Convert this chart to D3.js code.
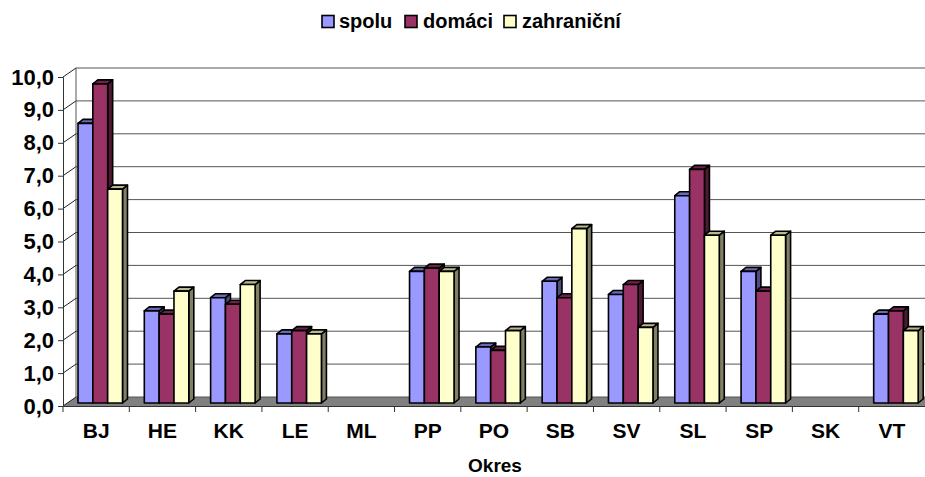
<!DOCTYPE html>
<html><head><meta charset="utf-8">
<script src="https://cdn.jsdelivr.net/npm/d3@7/dist/d3.min.js"></script>
<style>html,body{margin:0;background:#fff}svg{display:block}text{font-family:"Liberation Sans",Arial,sans-serif;font-weight:bold;fill:#000}</style>
</head><body><svg id="c" width="925" height="477"></svg>
<script>
const categories=["BJ","HE","KK","LE","ML","PP","PO","SB","SV","SL","SP","SK","VT"];
const spolu=[8.5,2.8,3.2,2.1,null,4.0,1.7,3.7,3.3,6.3,4.0,null,2.7];
const domaci=[9.7,2.7,3.0,2.2,null,4.1,1.6,3.2,3.6,7.1,3.4,null,2.8];
const zahranicni=[6.5,3.4,3.6,2.1,null,4.0,2.2,5.3,2.3,5.1,5.1,null,2.2];
const legendNames=["spolu","domáci","zahraniční"];
const fronts=["#9999ff","#993366","#ffffcc"];
const tops=["#6a6ab4","#6b2347","#b9b98f"];
const sides=["#4d4d80","#4d1a33","#808066"];
const yTicks=[0,1,2,3,4,5,6,7,8,9,10];

const svg=d3.select("#c");
const x=d3.scaleBand().domain(categories).range([63,925]);
const y=d3.scaleLinear().domain([0,10]).range([406,77]);
const sub=d3.scaleBand().domain([0,1,2]).range([15,59.5]);
const wallDx=13,wallDy=-9,barDy=-3,depthDx=5,depthDy=-4;
const pts=a=>a.map(p=>p.join(",")).join(" ");

svg.append("polygon").attr("points",pts([[63,y(0)],[63+wallDx,y(0)+wallDy],[925,y(0)+wallDy],[925,y(0)]])).attr("fill","#808080");
svg.append("g").selectAll("line").data(yTicks).join("line")
 .attr("x1",63+wallDx).attr("x2",925).attr("y1",d=>y(d)+wallDy).attr("y2",d=>y(d)+wallDy)
 .attr("stroke","#555").attr("stroke-width",1);
svg.append("line").attr("x1",63+wallDx).attr("x2",63+wallDx).attr("y1",y(0)+wallDy).attr("y2",y(10)+wallDy).attr("stroke","#555");
svg.append("g").selectAll("line").data(yTicks).join("line")
 .attr("x1",63).attr("x2",63+wallDx).attr("y1",d=>y(d)).attr("y2",d=>y(d)+wallDy)
 .attr("stroke","#222").attr("stroke-width",1);

const all=[spolu,domaci,zahranicni];
categories.forEach((c,i)=>{
  all.forEach((vals,s)=>{
    const v=vals[i]; if(v==null) return;
    const x0=x(c)+sub(s), x1=x0+sub.bandwidth();
    const yb=y(0)+barDy, yt=y(v)+barDy;
    const g=svg.append("g").attr("stroke","#000").attr("stroke-width",1.6).attr("stroke-linejoin","round");
    g.append("polygon").attr("points",pts([[x1,yt],[x1+depthDx,yt+depthDy],[x1+depthDx,yb+depthDy],[x1,yb]])).attr("fill",sides[s]);
    g.append("polygon").attr("points",pts([[x0,yt],[x0+depthDx,yt+depthDy],[x1+depthDx,yt+depthDy],[x1,yt]])).attr("fill",tops[s]);
    g.append("rect").attr("x",x0).attr("y",yt).attr("width",x1-x0).attr("height",yb-yt).attr("fill",fronts[s]);
  });
});

const ax=d3.axisLeft(y).tickValues(yTicks).tickSize(5).tickPadding(4).tickFormat(d=>d3.format(".1f")(d).replace(".",","));
const gy=svg.append("g").attr("transform","translate(63,0)").call(ax);
gy.selectAll("path,line").attr("stroke","#333");
gy.selectAll("text").attr("font-size",22);
const ax2=d3.axisBottom(x).tickSizeInner(0).tickSizeOuter(0).tickPadding(17);
const gx=svg.append("g").attr("transform",`translate(0,${y(0)})`).call(ax2);
gx.select("path").attr("stroke","#333");
gx.selectAll("text").attr("font-size",21).attr("dy","0.71em");
svg.append("g").selectAll("line").data(categories).join("line")
 .attr("x1",d=>x(d)).attr("x2",d=>x(d)).attr("y1",y(0)).attr("y2",y(0)+6).attr("stroke","#333");

svg.append("text").attr("x",495).attr("y",472).attr("text-anchor","middle").attr("font-size",19).text("Okres");

const lx=[322,405,504], tx=[339,423,522];
legendNames.forEach((n,i)=>{
  svg.append("rect").attr("x",lx[i]).attr("y",15.5).attr("width",12).attr("height",12).attr("fill",fronts[i]).attr("stroke","#000").attr("stroke-width",1.6);
  svg.append("text").attr("x",tx[i]).attr("y",28).attr("font-size",20).text(n);
});
</script></body></html>
